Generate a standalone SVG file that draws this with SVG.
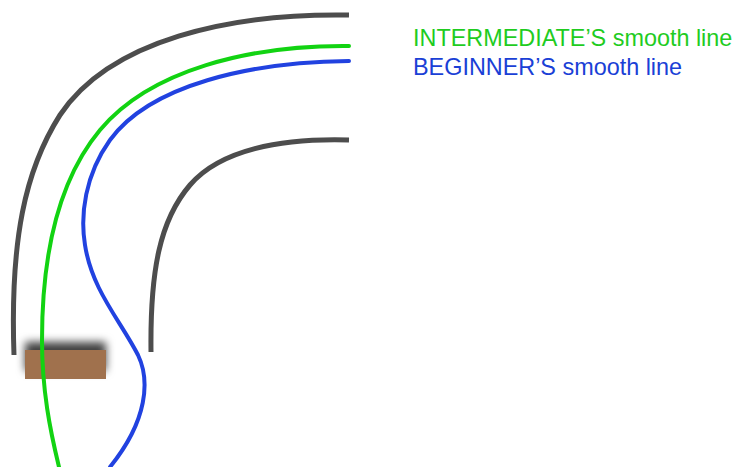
<svg xmlns="http://www.w3.org/2000/svg" width="735" height="467" viewBox="0 0 735 467">
  <defs>
    <style>
      .track { fill: none; stroke: #4d4d4d; stroke-width: 5; }
      .line { fill: none; stroke-width: 4; stroke-linecap: round; }
      .green { stroke: #12d312; }
      .blue { stroke: #2142e0; }
      .label { font-family: "Liberation Sans", Arial, sans-serif; font-size: 23.4px; }
    </style>
    <filter id="shadow" x="-20%" y="-80%" width="140%" height="200%">
      <feDropShadow dx="0" dy="-8" stdDeviation="4" flood-color="#000" flood-opacity="0.75"/>
    </filter>
  </defs>
  <rect width="735" height="467" fill="#ffffff"/>
  <g id="track">
    <path class="track" d="M349,15 C230,13 110,40 60,115 C25,170 10,240 14,355"/>
    <path class="track" d="M349,140 C280,138 220,150 190,185 C160,220 150,270 151,352"/>
  </g>
  <g id="obstacle">
    <rect x="25" y="350" width="81" height="29" fill="#a0714d" filter="url(#shadow)"/>
  </g>
  <g id="lines">
    <path class="line green" d="M349,46 C250,45 150,70 100,130 C60,178 42,250 42,340 C42,390 50,430 59,467"/>
    <path class="line blue" d="M349,61 C250,62 150,85 110,140 C85,175 80,215 85,245 C92,290 120,320 138,355 C150,380 148,420 110,467"/>
  </g>
  <g id="legend">
    <text class="label" x="413" y="46" fill="#1fcc1f">INTERMEDIATE’S smooth line</text>
    <text class="label" x="413" y="75" fill="#1a40d6">BEGINNER’S smooth line</text>
  </g>
</svg>
